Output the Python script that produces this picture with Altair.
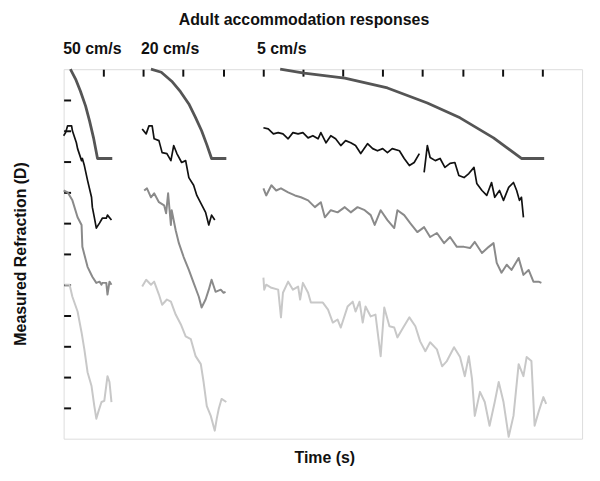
import altair as alt
import pandas as pd

# ---------------- data (time in tick units, refraction in tick units, top = 12) ----------------
# stimulus (target) ramps
stim50_t = [0.17, 0.30, 0.42, 0.55, 0.65, 0.75, 0.85, 1.22]
stim50_r = [12.0, 11.68, 11.29, 10.81, 10.32, 9.77, 9.10, 9.10]
stim20_t = [2.19, 2.45, 2.71, 2.93, 3.14, 3.30, 3.46, 3.59, 3.71, 4.08]
stim20_r = [12.0, 11.90, 11.61, 11.27, 10.87, 10.45, 10.0, 9.55, 9.10, 9.10]
stim5_t = [5.43, 6.03, 7.05, 8.12, 9.12, 9.94, 10.78, 11.48, 12.05]
stim5_r = [12.0, 11.87, 11.71, 11.39, 10.90, 10.42, 9.77, 9.10, 9.10]

# subject 1 (black)
blk50_t = [0.0, 0.05, 0.10, 0.20, 0.22, 0.32, 0.35, 0.45, 0.47, 0.52, 0.60, 0.70, 0.72, 0.77, 0.82, 0.90, 0.97, 1.07, 1.10, 1.20]
blk50_r = [9.84, 9.94, 10.16, 10.16, 10.0, 9.61, 9.42, 9.03, 9.10, 8.87, 8.39, 7.84, 7.52, 7.19, 6.84, 7.0, 7.16, 7.16, 7.26, 7.10]
blk20_t = [1.97, 2.07, 2.14, 2.22, 2.27, 2.39, 2.47, 2.59, 2.69, 2.76, 2.84, 2.96, 3.06, 3.14, 3.26, 3.34, 3.44, 3.56, 3.64, 3.71, 3.79]
blk20_r = [10.06, 9.90, 10.16, 10.16, 9.74, 9.68, 9.29, 9.26, 9.03, 9.52, 9.26, 8.97, 9.03, 8.48, 8.23, 7.90, 7.65, 7.35, 6.94, 7.26, 7.10]
blk5a_t = [5.01, 5.13, 5.26, 5.38, 5.50, 5.63, 5.75, 5.88, 6.00, 6.13, 6.25, 6.38, 6.45, 6.58, 6.70, 6.82, 6.95, 7.07,
           7.20, 7.32, 7.45, 7.62, 7.75, 7.87, 8.00, 8.12, 8.24, 8.42, 8.54, 8.67, 8.79, 8.92]
blk5a_r = [10.10, 10.06, 9.90, 9.94, 9.90, 9.74, 9.94, 9.90, 9.94, 9.77, 9.84, 9.74, 9.94, 9.61, 9.84, 9.74, 9.52, 9.68,
           9.61, 9.52, 9.26, 9.58, 9.42, 9.35, 9.42, 9.29, 9.42, 9.35, 9.10, 8.87, 8.97, 9.26]
blk5b_t = [9.04, 9.12, 9.19, 9.32, 9.44, 9.56, 9.69, 9.81, 9.91, 10.04, 10.16, 10.29, 10.36, 10.49, 10.61, 10.73, 10.81,
           10.93, 11.03, 11.16, 11.28, 11.36, 11.43, 11.48, 11.53]
blk5b_r = [8.65, 9.52, 9.13, 9.03, 9.10, 8.81, 8.94, 8.97, 8.55, 8.48, 8.61, 8.81, 8.29, 8.06, 7.90, 8.32, 7.84,
           8.06, 7.74, 8.16, 8.32, 8.06, 7.74, 7.84, 7.19]

# subject 2 (mid grey)
mid50_t = [0.0, 0.10, 0.22, 0.35, 0.45, 0.47, 0.60, 0.72, 0.82, 0.90, 0.95, 0.97, 1.07, 1.10, 1.15, 1.20]
mid50_r = [8.06, 8.0, 7.74, 7.19, 6.94, 6.23, 5.58, 5.26, 5.06, 5.10, 5.0, 5.06, 5.06, 4.68, 5.10, 5.0]
mid20_t = [2.02, 2.09, 2.19, 2.27, 2.39, 2.52, 2.57, 2.62, 2.69, 2.71, 2.81, 2.89, 3.01, 3.14, 3.26, 3.39, 3.46, 3.56,
           3.64, 3.71, 3.81, 3.94, 4.01, 4.06]
mid20_r = [8.06, 8.13, 7.84, 7.97, 7.68, 7.58, 7.32, 7.97, 6.94, 7.42, 6.77, 6.35, 5.90, 5.48, 5.06, 4.61, 4.26, 4.52,
           4.84, 5.16, 4.77, 4.84, 4.74, 4.77]
mid5_t = [5.01, 5.08, 5.21, 5.33, 5.45, 5.63, 5.80, 5.95, 6.13, 6.30, 6.45, 6.55, 6.70, 6.87, 7.05, 7.20, 7.37, 7.55,
          7.70, 7.80, 7.95, 8.12, 8.29, 8.37, 8.54, 8.69, 8.87, 9.04, 9.19, 9.36, 9.54, 9.69, 9.86, 10.04, 10.19, 10.31,
          10.49, 10.66, 10.78, 10.86, 10.98, 11.11, 11.23, 11.41, 11.53, 11.66, 11.78, 11.91, 11.98]
mid5_r = [8.13, 7.90, 8.23, 8.06, 8.13, 8.0, 7.90, 7.84, 7.74, 7.52, 7.68, 7.19, 7.42, 7.35, 7.52, 7.35, 7.52, 7.42,
          7.26, 6.94, 7.42, 7.10, 6.84, 7.42, 7.26, 7.0, 6.71, 6.87, 6.55, 6.68, 6.35, 6.55, 6.23, 6.23, 6.19, 6.39,
          6.03, 6.23, 6.35, 5.71, 5.39, 5.65, 5.48, 5.87, 5.32, 5.48, 5.10, 5.10, 5.06]

# subject 3 (light grey)
lt50_t = [0.02, 0.15, 0.22, 0.35, 0.45, 0.52, 0.60, 0.70, 0.77, 0.82, 0.87, 0.95, 1.02, 1.10, 1.15, 1.20]
lt50_r = [5.0, 5.0, 4.61, 4.13, 3.45, 2.90, 2.16, 1.71, 1.06, 0.65, 0.87, 1.19, 1.23, 2.03, 1.84, 1.19]
lt20_t = [1.97, 2.07, 2.19, 2.27, 2.39, 2.47, 2.59, 2.69, 2.81, 2.94, 3.06, 3.19, 3.31, 3.44, 3.51, 3.59, 3.69, 3.79,
          3.84, 3.89, 3.96, 4.08]
lt20_r = [4.94, 5.16, 5.0, 5.10, 4.68, 4.35, 4.52, 4.45, 4.03, 3.71, 3.32, 3.23, 2.68, 2.42, 1.84, 1.06, 0.74, 0.26,
          0.65, 0.97, 1.29, 1.19]
lt5_t = [5.01, 5.03, 5.08, 5.21, 5.38, 5.45, 5.50, 5.63, 5.75, 5.88, 5.93, 6.00, 6.13, 6.20, 6.38, 6.50, 6.63, 6.75,
         6.87, 6.95, 7.12, 7.25, 7.32, 7.42, 7.50, 7.57, 7.70, 7.82, 7.95, 8.04, 8.17, 8.29, 8.37, 8.49, 8.67, 8.82,
         8.94, 9.07, 9.19, 9.36, 9.49, 9.61, 9.79, 9.94, 10.06, 10.16, 10.24, 10.31, 10.44, 10.56, 10.68, 10.81,
         10.91, 11.03, 11.16, 11.28, 11.41, 11.53, 11.61, 11.73, 11.81, 11.91, 12.03, 12.10]
lt5_r = [5.23, 4.84, 5.0, 4.90, 4.84, 3.94, 4.74, 5.10, 4.84, 4.94, 4.52, 5.06, 4.74, 4.42, 4.42, 4.42, 4.19, 3.77,
         3.87, 3.61, 4.29, 4.45, 4.13, 4.45, 3.77, 4.29, 3.97, 4.03, 2.68, 4.26, 3.65, 3.61, 3.29, 3.55, 3.94, 3.65,
         3.16, 2.84, 3.13, 2.90, 2.35, 2.52, 2.97, 2.65, 2.03, 2.68, 1.94, 0.74, 1.52, 1.19, 0.42, 1.19,
         1.84, 1.19, 0.06, 0.74, 2.42, 2.03, 2.65, 2.52, 0.42, 0.87, 1.35, 1.13]

panel_labels = ["50 cm/s", "20 cm/s", "5 cm/s"]
panel_centers = [0.72, 2.67, 5.47]
x_ticks = [1, 2, 3, 4, 5, 6, 7, 8, 9, 10, 11, 12]
y_ticks = [1, 2, 3, 4, 5, 6, 7, 8, 9, 10, 11]

chart_title = "Adult accommodation responses"
x_title = "Time (s)"
y_title = "Measured Refraction (D)"

# ---------------- build table ----------------
series = [
    ("stim50", "stim", stim50_t, stim50_r), ("stim20", "stim", stim20_t, stim20_r), ("stim5", "stim", stim5_t, stim5_r),
    ("blk50", "blk", blk50_t, blk50_r), ("blk20", "blk", blk20_t, blk20_r),
    ("blk5a", "blk", blk5a_t, blk5a_r), ("blk5b", "blk", blk5b_t, blk5b_r),
    ("mid50", "mid", mid50_t, mid50_r), ("mid20", "mid", mid20_t, mid20_r), ("mid5", "mid", mid5_t, mid5_r),
    ("lt50", "lt", lt50_t, lt50_r), ("lt20", "lt", lt20_t, lt20_r), ("lt5", "lt", lt5_t, lt5_r),
]
frames = []
for name, grp, t, r in series:
    frames.append(pd.DataFrame({"t": t, "r": r, "trace": name, "grp": grp, "i": list(range(len(t)))}))
df = pd.concat(frames, ignore_index=True)

FONT = "Liberation Sans"
FS = 16
W, H = 522, 372

xs = alt.Scale(domain=[0, 13], nice=False, zero=False)
ys = alt.Scale(domain=[0, 12], nice=False, zero=False)
xax = alt.Axis(orient="top", values=x_ticks, offset=-7, tickSize=7, tickWidth=2, tickColor="#111",
               domain=False, labels=False, grid=False, title=None)
yax = alt.Axis(orient="left", values=y_ticks, offset=-7, tickSize=7, tickWidth=2, tickColor="#111",
               domain=False, labels=False, grid=False, title=None)

styles = {"lt": ("#c8c8c8", 2.0), "mid": ("#8a8a8a", 2.0), "blk": ("#111111", 1.7), "stim": ("#555555", 2.8)}

layers = []
for grp in ["lt", "mid", "blk", "stim"]:
    col, sw = styles[grp]
    layers.append(
        alt.Chart(df).transform_filter(alt.datum.grp == grp)
        .mark_line(color=col, strokeWidth=sw, strokeJoin="round")
        .encode(x=alt.X("t:Q", scale=xs, axis=xax), y=alt.Y("r:Q", scale=ys, axis=yax),
                detail="trace:N", order="i:Q")
    )

lab_df = pd.DataFrame({"t": panel_centers, "lab": panel_labels})
labels = alt.Chart(lab_df).mark_text(font=FONT, fontWeight="bold", fontSize=FS, color="#111",
                                     baseline="middle", align="center").encode(
    x=alt.X("t:Q", scale=xs, axis=xax), y=alt.value(-20), text="lab:N")

title_mark = alt.Chart(pd.DataFrame({"txt": [chart_title]})).mark_text(
    font=FONT, fontWeight="bold", fontSize=FS, color="#111", baseline="middle", align="center").encode(
    x=alt.value(242), y=alt.value(-49.5), text="txt:N")
xt_mark = alt.Chart(pd.DataFrame({"txt": [x_title]})).mark_text(
    font=FONT, fontWeight="bold", fontSize=FS, color="#111", baseline="middle", align="center").encode(
    x=alt.value(263), y=alt.value(392), text="txt:N")
yt_mark = alt.Chart(pd.DataFrame({"txt": [y_title]})).mark_text(
    font=FONT, fontWeight="bold", fontSize=FS, color="#111", baseline="middle", align="center", angle=270).encode(
    x=alt.value(-42.5), y=alt.value(H / 2), text="txt:N")

chart = alt.layer(*layers, labels, title_mark, xt_mark, yt_mark).properties(
    width=W, height=H, autosize="none",
    padding={"left": 56, "top": 60, "right": 10, "bottom": 40},
).configure_view(stroke="#a5a5a5", strokeWidth=1.5).configure(background="white")

chart.save("out.html", embed_options={"renderer": "svg", "actions": False})
